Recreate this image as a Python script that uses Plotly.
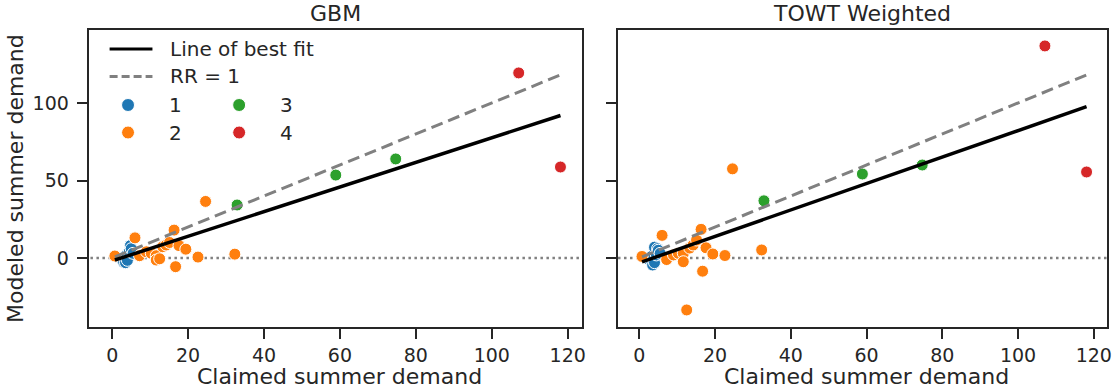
import plotly.graph_objects as go

# ---------------- data ----------------
claimed_1 = [2.0, 2.5, 3.0, 3.2, 3.5, 3.8, 4.0, 4.0, 4.5, 4.8, 5.0, 5.5]
gbm_1 = [0.0, -1.0, -2.5, 0.5, -3.0, 2.0, 1.0, -1.5, 4.0, 8.0, 6.0, 3.0]
towt_1 = [0.0, -1.0, -1.0, 1.0, -4.5, 0.5, -3.0, 7.0, 2.0, 6.0, 5.0, 3.0]

claimed_2 = [0.7, 6.0, 7.2, 9.0, 10.3, 11.6, 11.6, 12.5, 13.3, 14.2, 15.1, 16.3, 16.7, 17.6, 19.4, 22.6, 24.6, 32.3]
gbm_2 = [1.3, 13.0, 1.5, 4.0, 3.0, 1.5, -1.3, -0.5, 7.3, 8.4, 10.0, 18.0, -5.6, 8.0, 5.7, 0.6, 36.5, 2.5]
towt_2 = [1.0, 14.6, -1.0, 2.0, 3.0, 3.0, -2.4, -33.5, 6.4, 8.4, 11.6, 18.5, -8.5, 6.6, 2.6, 1.6, 57.5, 5.2]

claimed_3 = [32.9, 58.9, 74.7]
gbm_3 = [34.2, 53.5, 63.9]
towt_3 = [36.9, 54.2, 60.0]

claimed_4 = [107.1, 118.1]
gbm_4 = [119.4, 58.7]
towt_4 = [136.8, 55.5]

groups = ["1", "2", "3", "4"]
colors = ["#1f77b4", "#ff7f0e", "#2ca02c", "#d62728"]

fit_gbm = (0.794, -1.86)   # slope, intercept
fit_towt = (0.853, -3.1)

x_ticks = [0, 20, 40, 60, 80, 100, 120]
y_ticks = [0, 50, 100]
panel_titles = ["GBM", "TOWT Weighted"]
x_title = "Claimed summer demand"
y_title = "Modeled summer demand"
legend_lines = ["Line of best fit", "RR = 1"]

# ---------------- figure ----------------
W, H = 1114, 390
FONT = "DejaVu Sans"
TXT = "#262626"

def px(x):
    return x / W

def py(y):
    return 1 - y / H

fig = go.Figure()

claimed = [claimed_1, claimed_2, claimed_3, claimed_4]
panels = [
    ([gbm_1, gbm_2, gbm_3, gbm_4], fit_gbm, "x", "y"),
    ([towt_1, towt_2, towt_3, towt_4], fit_towt, "x2", "y2"),
]

for modeled, fit, xa, ya in panels:
    allx = [v for g in claimed for v in g]
    xmin, xmax = min(allx), max(allx)
    # zero reference line
    fig.add_trace(go.Scatter(x=[-50, 200], y=[0, 0], mode="lines", xaxis=xa, yaxis=ya,
                             line=dict(color="#808080", width=2.5, dash="2.5px,3.5px"),
                             showlegend=False, hoverinfo="skip"))
    for g, xs, ys, c in zip(groups, claimed, modeled, colors):
        fig.add_trace(go.Scatter(x=xs, y=ys, mode="markers", xaxis=xa, yaxis=ya, name=g,
                                 marker=dict(color=c, size=12, line=dict(color="white", width=1)),
                                 showlegend=False))
    fig.add_trace(go.Scatter(x=[xmin, xmax], y=[xmin, xmax], mode="lines", xaxis=xa, yaxis=ya,
                             line=dict(color="#808080", width=3, dash="12px,6px"),
                             showlegend=False))
    fig.add_trace(go.Scatter(x=[xmin, xmax], y=[fit[0] * xmin + fit[1], fit[0] * xmax + fit[1]],
                             mode="lines", xaxis=xa, yaxis=ya,
                             line=dict(color="black", width=3.5), showlegend=False))

axis_common = dict(showline=True, linewidth=2, linecolor=TXT, mirror=True, showgrid=False,
                   zeroline=False, ticks="outside", ticklen=10, tickwidth=2, tickcolor=TXT,
                   tickfont=dict(family=FONT, size=19, color=TXT))

fig.update_layout(
    width=W, height=H, margin=dict(l=0, r=0, t=0, b=0),
    plot_bgcolor="white", paper_bgcolor="white", showlegend=False,
    xaxis=dict(domain=[px(89), px(584)], range=[-6.2, 123.75], tickvals=x_ticks, anchor="y", **axis_common),
    xaxis2=dict(domain=[px(620), px(1111)], range=[-5.7, 123.5], tickvals=x_ticks, anchor="y2", **axis_common),
    yaxis=dict(domain=[py(327), py(29.5)], range=[-44.5, 147.4], tickvals=y_ticks, anchor="x",
               ticklabelstandoff=4, **axis_common),
    yaxis2=dict(domain=[py(327), py(29.5)], range=[-44.5, 147.4], tickvals=y_ticks, anchor="x2",
                showticklabels=False, matches="y", **axis_common),
)

ann = []
for t, cx in zip(panel_titles, [(89 + 584) / 2, (620 + 1111) / 2]):
    ann.append(dict(text=t, x=px(cx), y=py(14), xref="paper", yref="paper", showarrow=False,
                    font=dict(family=FONT, size=22, color=TXT), xanchor="center", yanchor="middle"))
    ann.append(dict(text=x_title, x=px(cx + 4), y=py(376), xref="paper", yref="paper", showarrow=False,
                    font=dict(family=FONT, size=22, color=TXT), xanchor="center", yanchor="middle"))
ann.append(dict(text=y_title, x=px(16), y=py(178), xref="paper", yref="paper", showarrow=False,
                textangle=-90, font=dict(family=FONT, size=22, color=TXT),
                xanchor="center", yanchor="middle"))

# manual legend
shapes = []
shapes.append(dict(type="line", xref="paper", yref="paper", x0=px(110), x1=px(153), y0=py(49), y1=py(49),
                   line=dict(color="black", width=3)))
shapes.append(dict(type="line", xref="paper", yref="paper", x0=px(110), x1=px(153), y0=py(76.5), y1=py(76.5),
                   line=dict(color="#808080", width=3, dash="8px,4px")))
for txt, yy in zip(legend_lines, [49, 76.5]):
    ann.append(dict(text=txt, x=px(169), y=py(yy), xref="paper", yref="paper", showarrow=False,
                    font=dict(family=FONT, size=20, color=TXT), xanchor="left", yanchor="middle"))
dot_pos = [(128.5, 105), (128.5, 132.5), (240, 105), (240, 132.5)]
for g, c, (cx, cy) in zip(groups, colors, dot_pos):
    r = 6.5
    shapes.append(dict(type="circle", xref="paper", yref="paper", x0=px(cx - r), x1=px(cx + r),
                       y0=py(cy + r), y1=py(cy - r), fillcolor=c, line=dict(color="white", width=1)))
    ann.append(dict(text=g, x=px(cx + 39), y=py(cy), xref="paper", yref="paper", showarrow=False,
                    font=dict(family=FONT, size=20, color=TXT), xanchor="left", yanchor="middle"))

fig.update_layout(annotations=ann, shapes=shapes)
fig.write_html("out.html")
